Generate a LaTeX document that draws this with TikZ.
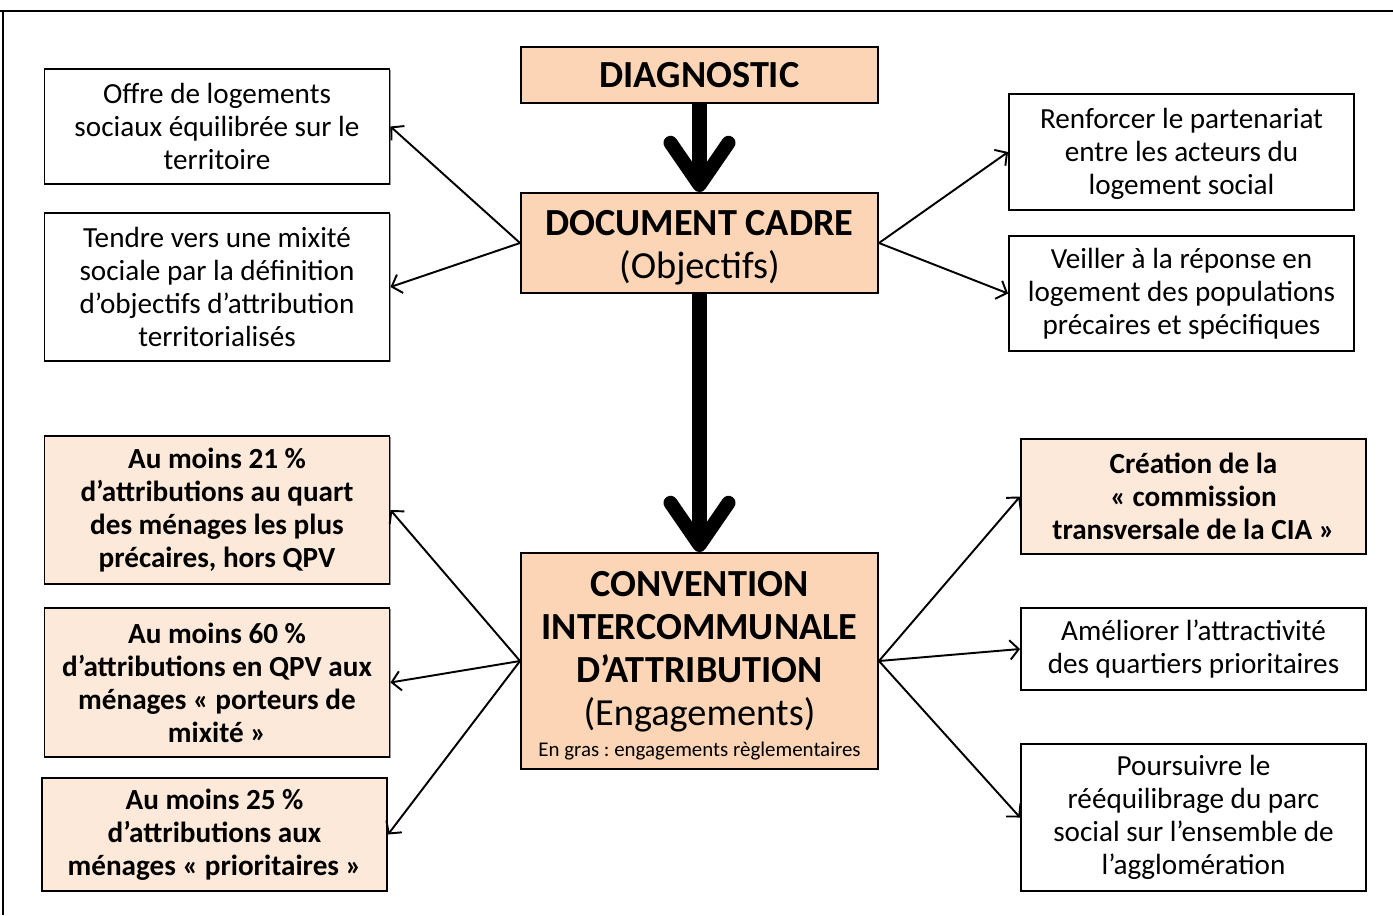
\documentclass[tikz,border=0pt]{standalone}
\usepackage{fontspec}
\setmainfont{Carlito}
\usetikzlibrary{arrows.meta,shadows}

\definecolor{peachdark}{HTML}{FBD5B5}
\definecolor{peachlight}{HTML}{FDE9D9}

\frenchspacing

\begin{document}
\begin{tikzpicture}[
    box/.style={draw=black, line width=1.1pt, align=center, inner sep=0pt,
        drop shadow={shadow xshift=0.7pt, shadow yshift=-0.7pt, fill=black!40, opacity=1},
        font=\fontsize{16.6}{18.8}\selectfont},
    plainbox/.style={box, fill=white, minimum width=6.9cm},
    lightbox/.style={box, fill=peachlight, minimum width=6.9cm,
        font=\bfseries\fontsize{16.6}{18.8}\selectfont},
    mainbox/.style={box, fill=peachdark, minimum width=7.14cm,
        font=\fontsize{21.8}{24.6}\selectfont},
    bigarrow/.style={line width=8pt, -{Straight Barb[length=24pt, width=33pt, round]}},
    thinarrow/.style={line width=1.1pt, -{Straight Barb[length=5pt, width=11pt]}}
]

    % Page frame (fixes the margins)
    \useasboundingbox (0,0) rectangle (27.86,-18.3);
    \draw[line width=1.2pt] (0,-0.22) -- (27.86,-0.22);   % top rule
    \draw[line width=1.2pt] (0.06,-0.22) -- (0.06,-18.3);  % left rule

    % Central column
    \node[mainbox, minimum height=1.12cm] (diag) at (13.99,-1.5) {\textbf{DIAGNOSTIC}};
    \node[mainbox, minimum height=2.0cm] (cadre) at (13.99,-4.86)
        {\rule{0pt}{20pt}\textbf{DOCUMENT CADRE}\\(Objectifs)};
    \node[mainbox, minimum height=4.32cm] (cia) at (13.99,-13.22)
        {\rule{0pt}{19.5pt}\textbf{CONVENTION}\\\textbf{INTERCOMMUNALE}\\\textbf{D’ATTRIBUTION}\\(Engagements)\\[-7pt]
         {\fontsize{11.9}{13}\selectfont En gras : engagements règlementaires}};

    % Objectives of the document cadre (left)
    \node[plainbox, minimum height=2.3cm] (offre) at (4.34,-2.53)
        {Offre de logements\\sociaux équilibrée sur le\\territoire};
    \node[plainbox, minimum height=2.96cm] (mixite) at (4.34,-5.74)
        {Tendre vers une mixité\\sociale par la définition\\d’objectifs d’attribution\\territorialisés};

    % Objectives of the document cadre (right)
    \node[plainbox, minimum height=2.32cm] (parten) at (23.63,-3.04)
        {\rule{0pt}{14pt}Renforcer le partenariat\\entre les acteurs du\\logement social};
    \node[plainbox, minimum height=2.3cm] (veiller) at (23.63,-5.87)
        {Veiller à la réponse en\\logement des populations\\précaires et spécifiques};

    % Engagements of the CIA (left, statutory)
    \node[lightbox, minimum height=2.96cm] (quart) at (4.34,-10.2)
        {Au moins 21 \%\\d’attributions au quart\\des ménages les plus\\précaires, hors QPV};
    \node[lightbox, minimum height=2.98cm] (qpv) at (4.34,-13.65)
        {Au moins 60 \%\\d’attributions en QPV aux\\ménages « porteurs de\\mixité »};
    \node[lightbox, minimum height=2.26cm] (prio) at (4.29,-16.69)
        {Au moins 25 \%\\d’attributions aux\\ménages « prioritaires »};

    % Engagements of the CIA (right)
    \node[lightbox, minimum height=2.3cm] (commis) at (23.87,-9.93)
        {Création de la\\« commission\\transversale de la CIA »};
    \node[plainbox, minimum height=1.64cm] (attract) at (23.87,-12.98)
        {Améliorer l’attractivité\\des quartiers prioritaires};
    \node[plainbox, minimum height=2.94cm] (reequil) at (23.87,-16.35)
        {Poursuivre le\\rééquilibrage du parc\\social sur l’ensemble de\\l’agglomération};

    % Main flow
    \draw[bigarrow] (diag) -- (cadre);
    \draw[bigarrow] (cadre) -- (cia);

    % Branches
    \draw[thinarrow] (cadre.west) -- (offre.east);
    \draw[thinarrow] (cadre.west) -- (mixite.east);
    \draw[thinarrow] (cadre.east) -- (parten.west);
    \draw[thinarrow] (cadre.east) -- (veiller.west);
    \draw[thinarrow] (cia.west) -- (quart.east);
    \draw[thinarrow] (cia.west) -- (qpv.east);
    \draw[thinarrow] (cia.west) -- (prio.east);
    \draw[thinarrow] (cia.east) -- (commis.west);
    \draw[thinarrow] (cia.east) -- (attract.west);
    \draw[thinarrow] (cia.east) -- (reequil.west);

\end{tikzpicture}
\end{document}
